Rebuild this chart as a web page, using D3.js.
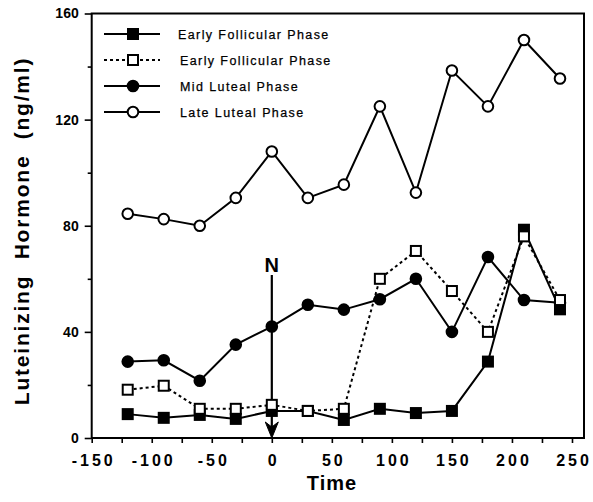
<!DOCTYPE html>
<html><head><meta charset="utf-8">
<script src="https://cdn.jsdelivr.net/npm/d3@7"></script>
<style>body{margin:0;background:#fff}svg{display:block}</style>
</head><body><svg id="c" width="593" height="502"></svg>
<script>
const times = [-120,-90,-60,-30,0,30,60,90,120,150,180,210,240];
const earlyFollicularA = [9,7.6,8.7,7.2,10.2,10.2,6.8,11,9.4,10.2,28.8,78.5,48.5];
const earlyFollicularB = [18.2,19.7,11,11,12.5,10.2,11,60,70.5,55.4,40,76,52];
const midLuteal = [28.8,29.3,21.6,35.2,42,50.2,48.4,52.3,60,40,68.2,52,51];
const lateLuteal = [84.5,82.5,80,90.5,108,90.5,95.5,125,92.5,138.5,125,150,135.5];
const seriesNames = ["Early Follicular Phase","Early Follicular Phase","Mid Luteal Phase","Late Luteal Phase"];
const xTicks = d3.range(-150,251,25);
const yTicks = d3.range(0,161,20);
const arrowTime = 0;
const arrowLabel = "N";

const svg = d3.select("#c");
const x = d3.scaleLinear().domain([-150,260]).range([91.7,584]);
const y = d3.scaleLinear().domain([0,160]).range([438,13.5]);
const FONT = "Arial, 'Liberation Sans', Helvetica, sans-serif";

// axes
const xa = svg.append("g").attr("transform",`translate(0,${y(0)})`)
  .call(d3.axisBottom(x).tickValues(xTicks).tickSize(5).tickPadding(12)
    .tickFormat(d => d % 50 === 0 ? String(d) : ""));
xa.select(".domain").remove();
xa.selectAll(".tick line").attr("stroke","#000").attr("stroke-width",1.6);
xa.selectAll(".tick text").attr("font-family",FONT).attr("font-weight","bold")
  .attr("font-size","16px").attr("letter-spacing","3px").attr("dx","1.5px").attr("fill","#000");

const ya = svg.append("g").attr("transform",`translate(${x(-150)},0)`)
  .call(d3.axisLeft(y).tickValues(yTicks).tickSize(7).tickPadding(6)
    .tickFormat(d => d % 40 === 0 ? String(d) : ""));
ya.select(".domain").remove();
ya.selectAll(".tick line").attr("stroke","#000").attr("stroke-width",1.6)
  .attr("x2", d => d % 40 === 0 ? -7 : -4);
ya.selectAll(".tick text").attr("font-family",FONT).attr("font-weight","bold")
  .attr("font-size","14px").attr("fill","#000");

// frame
svg.append("rect").attr("x",x(-150)).attr("y",y(160))
  .attr("width",x(260)-x(-150)).attr("height",y(0)-y(160))
  .attr("fill","none").attr("stroke","#000").attr("stroke-width",2);

// titles
svg.append("text").attr("transform",`translate(29,231) rotate(-90)`)
  .attr("text-anchor","middle").attr("font-family",FONT).attr("font-weight","bold")
  .attr("font-size","21px").attr("letter-spacing","1.8px")
  .style("white-space","pre").text("Luteinizing  Hormone  (ng/ml)");
svg.append("text").attr("x",332).attr("y",490)
  .attr("text-anchor","middle").attr("font-family",FONT).attr("font-weight","bold")
  .attr("font-size","20px").attr("letter-spacing","1px").text("Time");

// arrow N
const ax = x(arrowTime);
svg.append("line").attr("x1",ax).attr("x2",ax)
  .attr("y1",275).attr("y2",y(0)-8).attr("stroke","#000").attr("stroke-width",2.2);
svg.append("path")
  .attr("d",`M${ax-6.5},${y(0)-16} L${ax},${y(0)-11} L${ax+6.5},${y(0)-16} L${ax},${y(0)} Z`)
  .attr("fill","#000").attr("stroke","#000").attr("stroke-width",1).attr("stroke-linejoin","round");
svg.append("text").attr("x",ax).attr("y",272).attr("text-anchor","middle")
  .attr("font-family",FONT).attr("font-weight","bold").attr("font-size","20px").text(arrowLabel);

// series
const seriesDefs = [
  {vals: lateLuteal, shape:"circle", fill:"#fff", dash:null},
  {vals: midLuteal, shape:"circle", fill:"#000", dash:null},
  {vals: earlyFollicularA, shape:"square", fill:"#000", dash:null},
  {vals: earlyFollicularB, shape:"square", fill:"#fff", dash:"3,3"},
];
const line = d3.line().x(d => x(d[0])).y(d => y(d[1]));
function drawMarker(g, shape, fill, cx, cy){
  if(shape==="circle"){
    g.append("circle").attr("cx",cx).attr("cy",cy).attr("r",5.3)
      .attr("fill",fill).attr("stroke","#000").attr("stroke-width",2);
  } else {
    g.append("rect").attr("x",cx-5).attr("y",cy-5).attr("width",10).attr("height",10)
      .attr("fill",fill).attr("stroke","#000").attr("stroke-width",2);
  }
}
seriesDefs.forEach(s => {
  const pts = times.map((t,i) => [t, s.vals[i]]);
  svg.append("path").attr("d",line(pts)).attr("fill","none").attr("stroke","#000")
    .attr("stroke-width",2).attr("stroke-dasharray",s.dash);
});
seriesDefs.forEach(s => {
  const g = svg.append("g");
  times.forEach((t,i) => drawMarker(g, s.shape, s.fill, x(t), y(s.vals[i])));
});

// legend
const legendRows = [
  {name: seriesNames[0], shape:"square", fill:"#000", dash:null},
  {name: seriesNames[1], shape:"square", fill:"#fff", dash:"3,3"},
  {name: seriesNames[2], shape:"circle", fill:"#000", dash:null},
  {name: seriesNames[3], shape:"circle", fill:"#fff", dash:null},
];
legendRows.forEach((r,i) => {
  const ly = 34 + i*26;
  const g = svg.append("g");
  g.append("line").attr("x1",104).attr("x2",160).attr("y1",ly).attr("y2",ly)
    .attr("stroke","#000").attr("stroke-width",2).attr("stroke-dasharray",r.dash);
  drawMarker(g, r.shape, r.fill, 133, ly);
  g.append("text").attr("x", i===0 ? 178 : 180).attr("y", ly+4.5)
    .attr("font-family",FONT).attr("font-size","12.5px").attr("letter-spacing","1.4px")
    .attr("stroke","#000").attr("stroke-width",0.25)
    .text(r.name);
});
</script></body></html>
